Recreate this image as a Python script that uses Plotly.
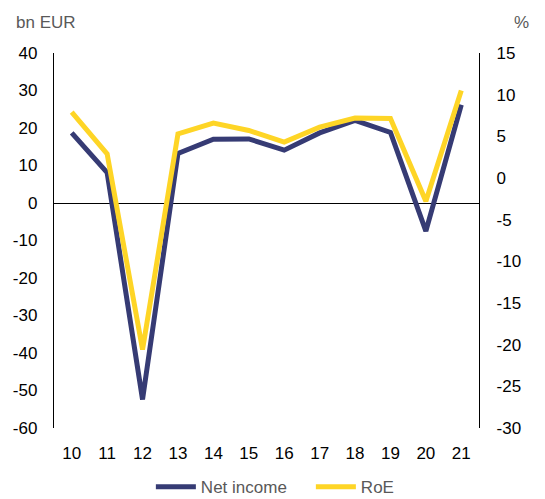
import plotly.graph_objects as go

years = ["10", "11", "12", "13", "14", "15", "16", "17", "18", "19", "20", "21"]
net_income = [18.7, 8.1, -52.4, 13.2, 17.0, 17.1, 14.1, 18.7, 22.0, 18.8, -7.5, 26.2]
roe = [7.9, 2.9, -20.6, 5.3, 6.6, 5.7, 4.3, 6.1, 7.2, 7.15, -2.8, 10.5]

left_ticks = [40, 30, 20, 10, 0, -10, -20, -30, -40, -50, -60]
right_ticks = [15, 10, 5, 0, -5, -10, -15, -20, -25, -30]

NAVY = "#363b74"
YELLOW = "#fed526"
FONT = "Liberation Sans, Arial, sans-serif"

fig = go.Figure()
fig.add_trace(go.Scatter(x=years, y=net_income, name="Net income", mode="lines",
                         line=dict(color=NAVY, width=5), yaxis="y"))
fig.add_trace(go.Scatter(x=years, y=roe, name="RoE", mode="lines",
                         line=dict(color=YELLOW, width=5), yaxis="y2"))

fig.update_layout(
    width=537, height=491,
    margin=dict(l=46, r=66, t=45, b=71, autoexpand=False),
    paper_bgcolor="white", plot_bgcolor="white",
    font=dict(family=FONT, size=17, color="#000000"),
    showlegend=True,
    legend=dict(orientation="h", xref="container", yref="container",
                x=0.564, xanchor="center", y=0.024, yanchor="middle",
                font=dict(size=17, color="#595959"), itemwidth=40,
                entrywidth=105, entrywidthmode="pixels",
                traceorder="normal", itemsizing="constant"),
    xaxis=dict(type="category", categoryorder="array", categoryarray=years,
               range=[-0.5, 11.5], showgrid=False, showline=False, zeroline=False,
               ticks="outside", ticklen=10, tickcolor="rgba(0,0,0,0)",
               tickfont=dict(size=17), automargin=False),
    yaxis=dict(range=[-60, 40], tickvals=left_ticks,
               ticktext=[str(v) for v in left_ticks],
               showgrid=False, showline=True, linecolor="black", linewidth=1.3,
               zeroline=True, zerolinecolor="black", zerolinewidth=1.3,
               ticks="outside", ticklen=12, tickcolor="rgba(0,0,0,0)",
               tickfont=dict(size=17), automargin=False),
    yaxis2=dict(range=[-30, 15], tickvals=right_ticks,
                ticktext=[str(v) for v in right_ticks],
                overlaying="y", side="right",
                showgrid=False, showline=True, linecolor="black", linewidth=1.3,
                zeroline=False,
                ticks="outside", ticklen=13, tickcolor="rgba(0,0,0,0)",
                tickfont=dict(size=17), automargin=False),
    annotations=[
        dict(text="bn EUR", xref="paper", yref="paper", x=-0.094, y=1.08,
             xanchor="left", yanchor="middle", showarrow=False,
             font=dict(size=17, color="#595959")),
        dict(text="%", xref="paper", yref="paper", x=1.1, y=1.08,
             xanchor="center", yanchor="middle", showarrow=False,
             font=dict(size=17, color="#595959")),
    ],
)

fig.write_html("out.html")
